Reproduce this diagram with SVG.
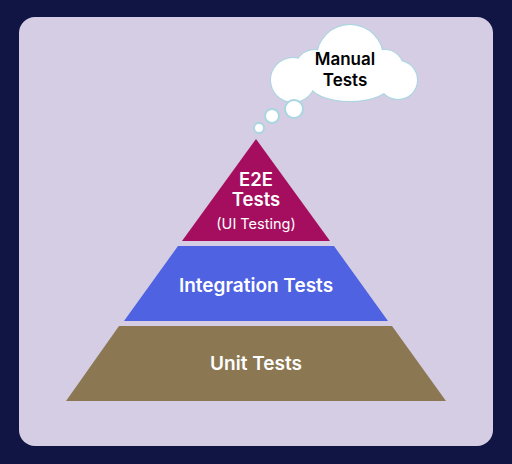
<svg xmlns="http://www.w3.org/2000/svg" width="512" height="464" viewBox="0 0 512 464">
<style>
.lbl{font-family:Inter,"Noto Sans","Liberation Sans",sans-serif;font-weight:600;fill:#ffffff;text-anchor:middle}
.sub{font-weight:400}
.cl{font-family:Inter,"Noto Sans","Liberation Sans",sans-serif;font-weight:600;fill:#000000;text-anchor:middle;font-size:17px}
.cs{fill:#ffffff;stroke:#a9d6e0;stroke-width:2}
.cf{fill:#ffffff}
</style>
<rect x="0" y="0" width="512" height="464" fill="#111544"/>
<rect x="19" y="17" width="474" height="429" rx="16" fill="#d5cde3"/>
<g id="unit">
<polygon points="119,326 392,326 446,401 66,401" fill="#8b7853"/>
<text class="lbl" x="256" y="370" font-size="19">Unit Tests</text>
</g>
<g id="integration">
<polygon points="178,246 334,246 388,321 124,321" fill="#4f62e1"/>
<text class="lbl" x="256" y="292" font-size="19">Integration Tests</text>
</g>
<g id="e2e">
<polygon points="256,139 330,241 182,241" fill="#a50e5e"/>
<text class="lbl" x="256" y="186" font-size="18.5">E2E</text>
<text class="lbl" x="256" y="206" font-size="18.5">Tests</text>
<text class="lbl sub" x="256" y="229" font-size="14.5">(UI Testing)</text>
</g>
<g id="manual">
<g class="cs">
<circle cx="350" cy="58" r="33"/>
<circle cx="293" cy="80" r="22"/>
<circle cx="398" cy="80" r="19"/>
<circle cx="315" cy="70" r="20"/>
<ellipse cx="350" cy="84" rx="40" ry="17"/>
<circle cx="385" cy="68" r="18"/>
</g>
<g class="cf">
<circle cx="350" cy="58" r="33"/>
<circle cx="293" cy="80" r="22"/>
<circle cx="398" cy="80" r="19"/>
<circle cx="315" cy="70" r="20"/>
<ellipse cx="350" cy="84" rx="40" ry="17"/>
<circle cx="385" cy="68" r="18"/>
</g>
<circle class="cs" cx="294" cy="109" r="9" stroke-width="1"/>
<circle class="cs" cx="272" cy="116" r="7" stroke-width="1"/>
<circle class="cs" cx="259" cy="128" r="5" stroke-width="1"/>
<text class="cl" x="345" y="65">Manual</text>
<text class="cl" x="345" y="86">Tests</text>
</g>
</svg>
